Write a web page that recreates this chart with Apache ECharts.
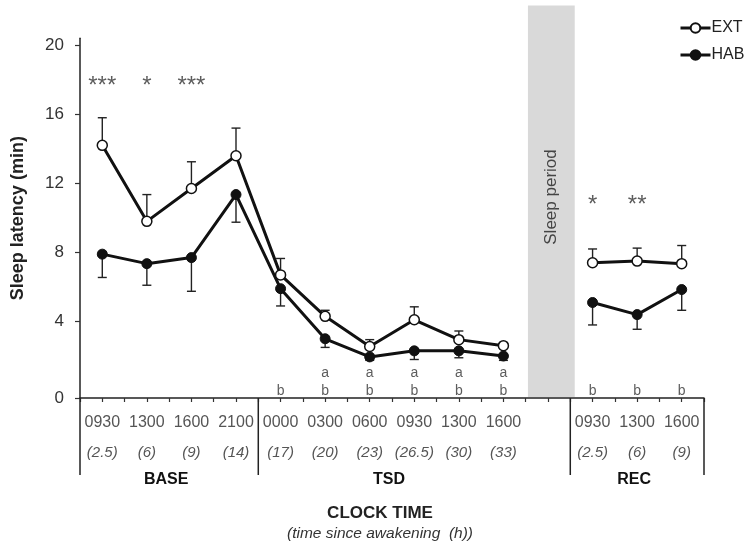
<!DOCTYPE html>
<html><head><meta charset="utf-8">
<script src="https://cdn.jsdelivr.net/npm/echarts@6/dist/echarts.min.js"></script>
<style>html,body{margin:0;padding:0;background:#fff}#c{width:748px;height:553px}</style>
</head><body><div id="c"></div>
<script>
// ---- data ----
const categories = ['0930','1300','1600','2100','0000','0300','0600','0930','1300','1600','','0930','1300','1600'];
const hoursSinceWake = ['(2.5)','(6)','(9)','(14)','(17)','(20)','(23)','(26.5)','(30)','(33)','','(2.5)','(6)','(9)'];
const groupNames = ['BASE','TSD','REC'];
const groupFirst = [0, 4, 11];   // first category index of each group
const groupLast  = [3, 9, 13];   // last category index of each group
const sleepSlot = 10;
const extMean = [14.2, 9.8, 11.7, 13.6, 6.7, 4.3, 2.55, 4.1, 2.95, 2.6, null, 7.4, 7.5, 7.35];
const extSem  = [1.6, 1.55, 1.55, 1.6, 0.95, 0.35, 0.4, 0.75, 0.5, 0.15, null, 0.8, 0.75, 1.05];
const habMean = [7.9, 7.35, 7.7, 11.35, 5.9, 3.0, 1.95, 2.3, 2.3, 2.0, null, 5.1, 4.4, 5.85];
const habSem  = [1.35, 1.25, 1.95, 1.6, 1.0, 0.5, 0.2, 0.5, 0.4, 0.25, null, 1.3, 0.85, 1.2];
const sigStars = ['***','*','***','','','','','','','','','*','**',''];
const sigLevel = [17.6, 17.6, 17.6, null, null, null, null, null, null, null, null, 10.7, 10.7, null];
const letterA = ['','','','','','a','a','a','a','a','','','',''];
const letterB = ['','','','','b','b','b','b','b','b','','b','b','b'];
const yTickLabels = [0, 4, 8, 12, 16, 20];

// ---- chart ----
const FONT = 'Liberation Sans, Arial, sans-serif';
const Y_MIN = -0.43, Y_MAX = 20.4;
const chart = echarts.init(document.getElementById('c'), null, {renderer: 'canvas'});

const errExt = extMean.map((m, i) => m == null ? null : [i, m, m + extSem[i]]).filter(Boolean);
const errHab = habMean.map((m, i) => m == null ? null : [i, m, m - habSem[i]]).filter(Boolean);
const starData = sigStars.map((s, i) => s ? [i, sigLevel[i], s] : null).filter(Boolean);
const aData = letterA.map((s, i) => s ? [i, 1.0, s] : null).filter(Boolean);
const bData = letterB.map((s, i) => s ? [i, -0.06, s] : null).filter(Boolean);
const boundaries = [groupFirst[0], groupFirst[1], groupFirst[2], groupLast[2] + 1];
const groupCenters = groupNames.map((g, k) => [(groupFirst[k] + groupLast[k] + 1) / 2, g]);

function errRender(params, api) {
  const p0 = api.coord([api.value(0), api.value(1)]);
  const p1 = api.coord([api.value(0), api.value(2)]);
  const s = {stroke: '#222', lineWidth: 1.4};
  return {type: 'group', children: [
    {type: 'line', shape: {x1: p0[0], y1: p0[1], x2: p1[0], y2: p1[1]}, style: s},
    {type: 'line', shape: {x1: p1[0] - 4.5, y1: p1[1], x2: p1[0] + 4.5, y2: p1[1]}, style: s}
  ]};
}
function textScatter(data, size, extra) {
  return {
    type: 'scatter', xAxisIndex: 0, data: data, symbolSize: 0, silent: true, z: 6,
    label: Object.assign({show: true, position: 'inside', formatter: p => p.data[2],
      fontFamily: FONT, fontSize: size, color: '#333'}, extra || {})
  };
}

chart.setOption({
  animation: false,
  backgroundColor: '#fff',
  grid: {left: 80, right: 44, top: 38.3, bottom: 155, containLabel: false},
  legend: {
    data: ['EXT', 'HAB'], orient: 'vertical', left: 674, top: 15, itemGap: 11,
    itemWidth: 30, itemHeight: 12,
    lineStyle: {width: 3},
    textStyle: {fontFamily: FONT, fontSize: 16, color: '#222', padding: [0, 0, 0, -4]}
  },
  xAxis: [
    {
      type: 'category', data: categories, boundaryGap: true, position: 'bottom',
      axisLine: {show: false}, axisTick: {show: false}, splitLine: {show: false},
      axisLabel: {
        interval: 0, margin: 10,
        formatter: (v, i) => categories[i] ? `{c|${categories[i]}}\n{h|${hoursSinceWake[i]}}` : '',
        rich: {
          c: {fontFamily: FONT, fontSize: 16, color: '#555', lineHeight: 30},
          h: {fontFamily: FONT, fontSize: 15, fontStyle: 'italic', color: '#555', lineHeight: 30}
        }
      }
    },
    {
      type: 'value', min: 0, max: 14, interval: 0.5, position: 'bottom',
      axisLine: {show: true, lineStyle: {color: '#222', width: 1.5}},
      axisTick: {show: true, inside: false, length: 4, lineStyle: {color: '#333', width: 1.2}},
      axisLabel: {show: false}, splitLine: {show: false}
    }
  ],
  yAxis: {
    type: 'value', min: Y_MIN, max: Y_MAX,
    name: 'Sleep latency (min)', nameLocation: 'middle', nameRotate: 90, nameGap: 53,
    nameTextStyle: {fontFamily: FONT, fontSize: 18, fontWeight: 'bold', color: '#222'},
    axisLine: {show: true, lineStyle: {color: '#222', width: 1.5}},
    axisTick: {show: true, length: 5, lineStyle: {color: '#333', width: 1.2},
      customValues: yTickLabels.map(v => v === 0 ? Y_MIN : v)},
    axisLabel: {fontFamily: FONT, fontSize: 17, color: '#333', margin: 16,
      customValues: yTickLabels.map(v => v === 0 ? Y_MIN : v),
      formatter: v => String(Math.max(0, Math.round(v)))},
    splitLine: {show: false}
  },
  graphic: [
    {type: 'text', x: 380, y: 513, style: {text: 'CLOCK TIME', align: 'center', verticalAlign: 'middle',
      font: 'bold 17px ' + FONT, fill: '#222'}},
    {type: 'text', x: 380, y: 534, style: {text: '(time since awakening  (h))', align: 'center', verticalAlign: 'middle',
      font: 'italic 15.5px ' + FONT, fill: '#333'}}
  ],
  series: [
    {
      type: 'custom', xAxisIndex: 1, data: [[sleepSlot]], silent: true, z: 0, clip: false,
      renderItem: (params, api) => {
        const a = api.coord([api.value(0) + 0.05, Y_MIN]);
        const b = api.coord([api.value(0) + 1.1, 22.3]);
        const cx = (a[0] + b[0]) / 2;
        return {type: 'group', children: [
          {type: 'rect', shape: {x: a[0], y: b[1], width: b[0] - a[0], height: a[1] - b[1] - 1},
            style: {fill: '#d9d9d9'}},
          {type: 'text', x: cx, y: 197, rotation: Math.PI / 2,
            style: {text: 'Sleep period', align: 'center', verticalAlign: 'middle',
              font: '17px ' + FONT, fill: '#444'}}
        ]};
      }
    },
    {
      type: 'custom', xAxisIndex: 1, data: boundaries.map(b => [b]), silent: true, z: 5, clip: false,
      renderItem: (params, api) => {
        const p = api.coord([api.value(0), Y_MIN]);
        return {type: 'line', shape: {x1: p[0], y1: p[1], x2: p[0], y2: p[1] + 77},
          style: {stroke: '#222', lineWidth: 1.5}};
      }
    },
    {
      type: 'custom', xAxisIndex: 1, data: groupCenters, silent: true, z: 5, clip: false,
      encode: {x: 0},
      renderItem: (params, api) => {
        const p = api.coord([api.value(0), Y_MIN]);
        return {type: 'text', x: p[0] - 3, y: p[1] + 82,
          style: {text: groupCenters[params.dataIndex][1], align: 'center', verticalAlign: 'middle',
            font: 'bold 16px ' + FONT, fill: '#111'}};
      }
    },
    {type: 'custom', name: 'extErr', xAxisIndex: 0, data: errExt, renderItem: errRender, z: 1, silent: true, clip: false},
    {type: 'custom', name: 'habErr', xAxisIndex: 0, data: errHab, renderItem: errRender, z: 1, silent: true, clip: false},
    {
      type: 'line', name: 'EXT', xAxisIndex: 0, data: extMean, connectNulls: false,
      symbol: 'circle', symbolSize: 10, z: 3,
      lineStyle: {color: '#111', width: 3},
      itemStyle: {color: '#fff', borderColor: '#111', borderWidth: 1.5}
    },
    {
      type: 'line', name: 'HAB', xAxisIndex: 0, data: habMean, connectNulls: false,
      symbol: 'circle', symbolSize: 10, z: 3,
      lineStyle: {color: '#111', width: 3},
      itemStyle: {color: '#111', borderColor: '#111', borderWidth: 1}
    },
    textScatter(starData, 24),
    textScatter(aData, 14),
    textScatter(bData, 14)
  ]
});
</script></body></html>
